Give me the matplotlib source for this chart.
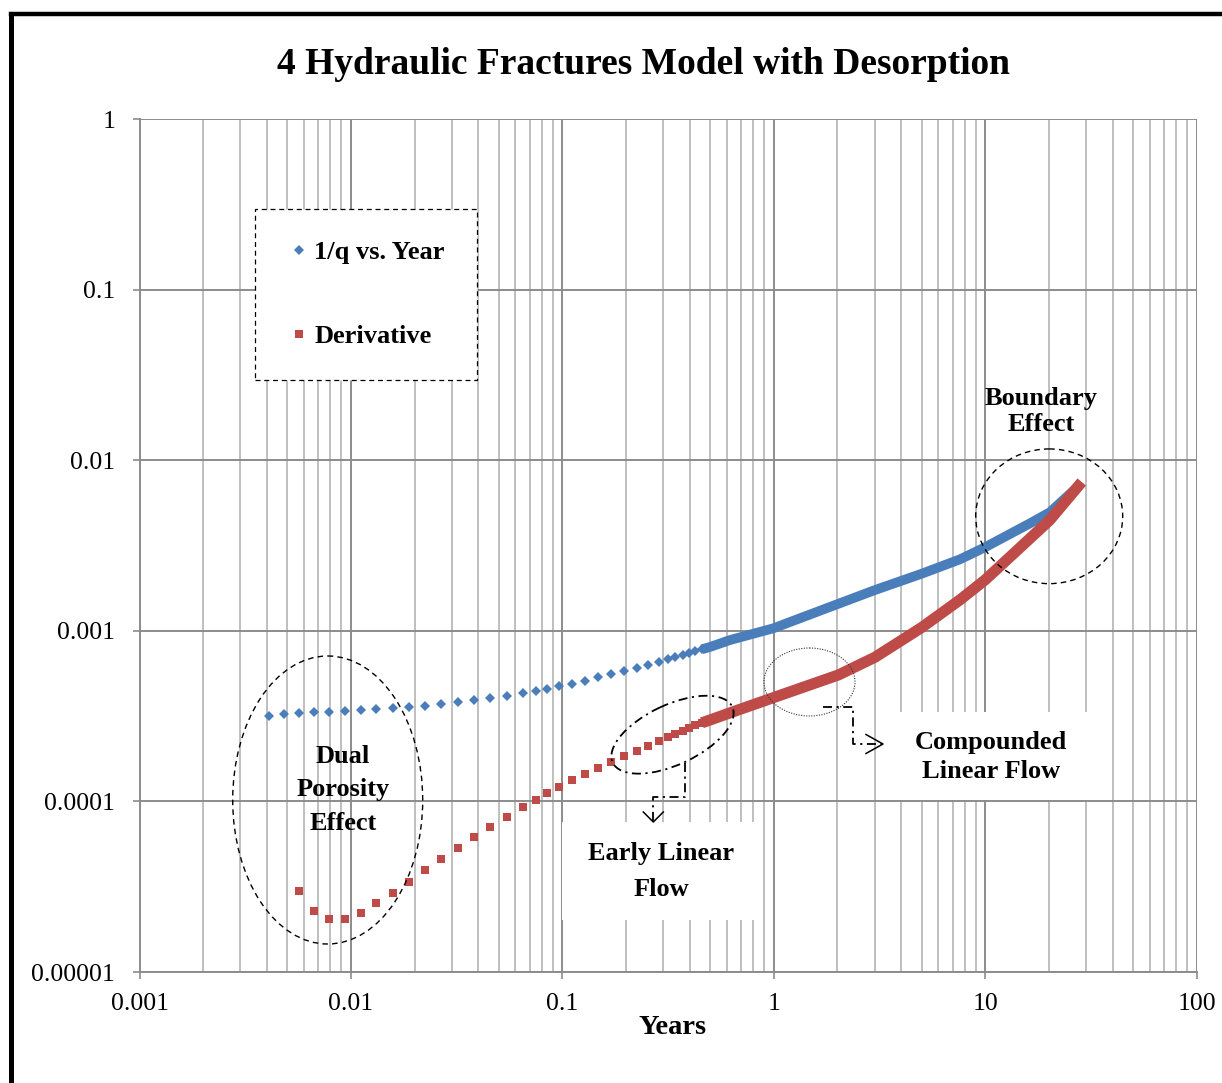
import matplotlib
matplotlib.use('Agg')
import matplotlib.pyplot as plt
from matplotlib.patches import Ellipse, Rectangle
from matplotlib.lines import Line2D
from matplotlib.transforms import Affine2D
from matplotlib.ticker import LogLocator, FixedLocator, FixedFormatter, NullLocator

# ---------------- data ----------------
years_q_sparse = [0.00411, 0.00483, 0.00568, 0.00669, 0.00787, 0.00934, 0.0112, 0.0131,
                  0.0158, 0.0188, 0.0224, 0.0267, 0.0320, 0.0382, 0.0456, 0.0545, 0.0654,
                  0.0750, 0.0848, 0.0967, 0.111, 0.128, 0.148, 0.170, 0.196, 0.225, 0.255,
                  0.287, 0.315, 0.341, 0.371, 0.396, 0.425, 0.457]
inv_q_sparse = [3.17e-4, 3.25e-4, 3.30e-4, 3.33e-4, 3.36e-4, 3.40e-4, 3.43e-4, 3.47e-4,
                3.51e-4, 3.56e-4, 3.63e-4, 3.72e-4, 3.81e-4, 3.92e-4, 4.02e-4, 4.17e-4, 4.32e-4,
                4.46e-4, 4.58e-4, 4.75e-4, 4.90e-4, 5.10e-4, 5.33e-4, 5.56e-4, 5.81e-4, 6.05e-4,
                6.33e-4, 6.59e-4, 6.81e-4, 6.99e-4, 7.21e-4, 7.38e-4, 7.58e-4, 7.79e-4]
years_q_dense = [0.457, 0.499, 0.621, 0.994, 2.02, 3.01, 5.00, 7.60, 9.97, 16.3, 20.2, 27.6]
inv_q_dense = [7.79e-4, 8.04e-4, 8.83e-4, 1.034e-3, 1.44e-3, 1.734e-3, 2.16e-3, 2.625e-3,
               3.087e-3, 4.27e-3, 4.95e-3, 7.05e-3]

years_d_sparse = [0.00568, 0.00669, 0.00790, 0.00934, 0.0111, 0.0131, 0.0158, 0.0188,
                  0.0224, 0.0267, 0.0320, 0.0382, 0.0456, 0.0545, 0.0654, 0.0750, 0.0848,
                  0.0967, 0.111, 0.128, 0.148, 0.170, 0.196, 0.225, 0.255, 0.287, 0.315,
                  0.341, 0.371, 0.396, 0.425, 0.457]
deriv_sparse = [2.97e-5, 2.28e-5, 2.04e-5, 2.05e-5, 2.23e-5, 2.53e-5, 2.92e-5, 3.39e-5,
                3.96e-5, 4.60e-5, 5.36e-5, 6.16e-5, 7.08e-5, 8.10e-5, 9.27e-5, 1.023e-4,
                1.115e-4, 1.218e-4, 1.331e-4, 1.443e-4, 1.576e-4, 1.707e-4, 1.851e-4,
                1.982e-4, 2.121e-4, 2.269e-4, 2.375e-4, 2.484e-4, 2.597e-4, 2.686e-4,
                2.786e-4, 2.889e-4]
years_d_dense = [0.457, 0.499, 0.643, 0.925, 2.02, 3.01, 5.00, 7.60, 9.97, 16.3, 20.2, 28.6]
deriv_dense = [2.889e-4, 3.00e-4, 3.356e-4, 3.93e-4, 5.51e-4, 7.0e-4, 1.045e-3, 1.52e-3,
               1.985e-3, 3.485e-3, 4.46e-3, 7.45e-3]

x_ticks = [0.001, 0.01, 0.1, 1, 10, 100]
x_tick_labels = ['0.001', '0.01', '0.1', '1', '10', '100']
y_ticks = [0.00001, 0.0001, 0.001, 0.01, 0.1, 1]
y_tick_labels = ['0.00001', '0.0001', '0.001', '0.01', '0.1', '1']

series_labels = ['1/q vs. Year', 'Derivative']
title = '4 Hydraulic Fractures Model with Desorption'
x_label = 'Years'

BLUE = '#4A7EBB'
RED = '#BE4B48'
GRID_MAJ = '#8C8C8C'
GRID_MIN = '#BFBFBF'

# ---------------- figure ----------------
W, H, DPI = 1222, 1083, 100
plt.rcParams['font.family'] = ['Liberation Serif', 'DejaVu Serif']

fig = plt.figure(figsize=(W / DPI, H / DPI), dpi=DPI)
fig.patch.set_facecolor('white')
ax = fig.add_axes([139.5 / W, 1 - 972 / H, 1057.2 / W, 853 / H])
# pixel transform (image coordinates, y downwards) for annotations
pix = Affine2D().scale(1 / W, -1 / H).translate(0, 1) + fig.transFigure

ax.set_xscale('log')
ax.set_yscale('log')
ax.set_xlim(x_ticks[0], x_ticks[-1])
ax.set_ylim(y_ticks[0], y_ticks[-1])
ax.xaxis.set_major_locator(FixedLocator(x_ticks))
ax.xaxis.set_major_formatter(FixedFormatter(x_tick_labels))
ax.yaxis.set_major_locator(FixedLocator(y_ticks))
ax.yaxis.set_major_formatter(FixedFormatter(y_tick_labels))
ax.xaxis.set_minor_locator(LogLocator(base=10, subs=range(2, 10), numticks=100))
ax.yaxis.set_minor_locator(NullLocator())
ax.set_axisbelow(True)
ax.grid(which='major', color=GRID_MAJ, lw=1.4)
ax.grid(which='minor', axis='x', color=GRID_MIN, lw=1.4)
ax.tick_params(which='minor', length=0)
ax.tick_params(which='major', direction='out', length=5, width=1.2, color=GRID_MAJ,
               labelsize=18.5, labelcolor='black')
ax.tick_params(axis='y', pad=12.5)
ax.tick_params(axis='x', pad=10)
for s in ['top', 'right']:
    ax.spines[s].set_visible(False)
for s in ['left', 'bottom']:
    ax.spines[s].set_color(GRID_MAJ)
    ax.spines[s].set_linewidth(1.4)

# ---------------- data marks ----------------
ax.plot(years_q_dense, inv_q_dense, color=BLUE, lw=7.0, solid_capstyle='butt',
        solid_joinstyle='round', zorder=3)
ax.plot(years_d_dense, deriv_dense, color=RED, lw=8.0, solid_capstyle='butt',
        solid_joinstyle='round', zorder=3)
hq, = ax.plot(years_q_sparse, inv_q_sparse, ls='none', marker='D', ms=5.4, mew=0,
              color=BLUE, zorder=3)
hd, = ax.plot(years_d_sparse, deriv_sparse, ls='none', marker='s', ms=5.8, mew=0,
              color=RED, zorder=3)

# ---------------- legend ----------------
leg = ax.legend([hq, hd], series_labels, loc='upper left',
                bbox_to_anchor=((255 - 139.5) / 1057.2, (972 - 209) / 853),
                prop=dict(weight='bold', size=19), frameon=True, fancybox=False,
                edgecolor='black', borderpad=1.2, labelspacing=2.3, handlelength=0.9,
                handletextpad=0.15, borderaxespad=0, markerscale=0.9)
fr = leg.get_frame()
fr.set_linestyle((0, (4, 3)))
fr.set_linewidth(0.9)
fr.set_facecolor('white')
fr.set_alpha(None)

# ---------------- titles ----------------
fig.text(643.5, 65, title, transform=pix, ha='center', va='center', fontsize=27,
         fontweight='bold')
ax.set_xlabel(x_label, fontsize=20.5, fontweight='bold')
ax.xaxis.set_label_coords((673 - 139.5) / 1057.2, (972 - 1028) / 853)
ax.xaxis.label.set_va('center')

# outer border (left and top edges visible)
fig.add_artist(Line2D([10.8, 10.8], [14, 1200], transform=pix, color='black', lw=3.6,
                      solid_capstyle='projecting'))
fig.add_artist(Line2D([10.8, 1300], [14, 14], transform=pix, color='black', lw=3.2,
                      solid_capstyle='projecting'))

# ---------------- annotations ----------------
def add(a):
    a.set_clip_on(False)
    return a

DASH = (0, (4, 3))
DASHDOT = (0, (5, 2.5, 1.2, 2.5))

ax.add_patch(add(Ellipse((327.7, 800), 190, 288, transform=pix, fill=False, ec='black',
                         lw=1.0, ls=DASH, zorder=4)))
ax.add_patch(add(Ellipse((1049.2, 516.3), 147, 134.7, transform=pix, fill=False,
                         ec='black', lw=1.0, ls=DASH, zorder=4)))
ax.add_patch(add(Ellipse((672.5, 734.7), 132, 60, angle=-25, transform=pix, fill=False,
                         ec='black', lw=1.3, ls=DASHDOT, zorder=4)))
ax.add_patch(add(Ellipse((809.5, 682), 91, 68, transform=pix, fill=False, ec='#333333',
                         lw=0.8, ls=(0, (1, 1.3)), zorder=4)))

# white text boxes
ax.add_patch(add(Rectangle((562, 822), 193, 98, transform=pix, fc='white', ec='none',
                           zorder=2.5)))
ax.add_patch(add(Rectangle((892, 712), 198, 88, transform=pix, fc='white', ec='none',
                           zorder=2.5)))

# connectors
ax.add_line(add(Line2D([685, 685, 653.3, 653.3], [762.7, 796.7, 796.7, 821],
                       transform=pix, color='black', lw=1.3, ls=DASHDOT, zorder=4)))
ax.add_line(add(Line2D([643.3, 653.3, 663.3], [812, 822, 812], transform=pix,
                       color='black', lw=1.1, zorder=4)))
ax.add_line(add(Line2D([823.3, 853.3, 853.3, 882], [707.3, 707.3, 744, 744],
                       transform=pix, color='black', lw=1.3, ls=DASHDOT, zorder=4)))
ax.add_line(add(Line2D([866, 883, 866], [734.5, 744, 753.5], transform=pix,
                       color='black', lw=1.1, zorder=4)))

def label(x, y, s):
    ax.text(x, y + 3, s, transform=pix, ha='center', va='center', fontsize=19,
            fontweight='bold', zorder=5, clip_on=False)

label(342.8, 753.3, 'Dual')
label(342.8, 786.7, 'Porosity')
label(343.5, 820, 'Effect')
label(1041.3, 395, 'Boundary')
label(1041.3, 421.7, 'Effect')
label(661, 850.7, 'Early Linear')
label(661, 886.5, 'Flow')
label(991, 739, 'Compounded')
label(991, 769, 'Linear Flow')

fig.savefig('out.png', dpi=DPI, facecolor='white')
